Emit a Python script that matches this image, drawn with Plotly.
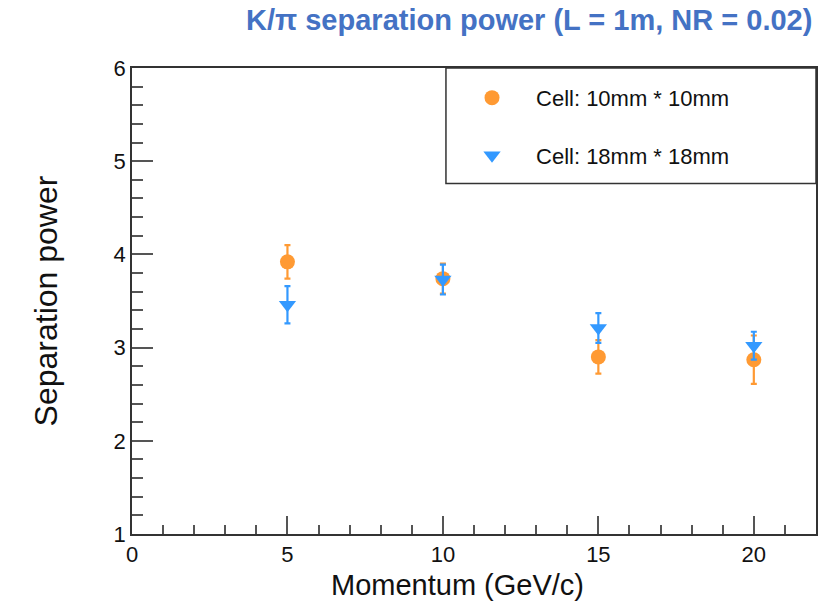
import plotly.graph_objects as go

momentum = [5, 10, 15, 20]
sep_10mm = [3.92, 3.74, 2.90, 2.87]
err_10mm = [0.18, 0.16, 0.18, 0.26]
sep_18mm = [3.46, 3.73, 3.21, 3.02]
err_18mm = [0.20, 0.16, 0.16, 0.15]

names = ["Cell: 10mm * 10mm", "Cell: 18mm * 18mm"]
orange = "#FF9A33"
blue = "#3399FF"

fig = go.Figure()
fig.add_trace(go.Scatter(
    x=momentum, y=sep_10mm, mode="markers", name=names[0],
    marker=dict(symbol="circle", size=15, color=orange),
    error_y=dict(type="data", array=err_10mm, color=orange, thickness=2.2, width=3),
    legendgroup="a"))
fig.add_trace(go.Scatter(
    x=momentum, y=sep_18mm, mode="markers", name=names[1],
    marker=dict(symbol="triangle-down", size=15, color=blue),
    error_y=dict(type="data", array=err_18mm, color=blue, thickness=2.2, width=3),
    legendgroup="b"))

axis_common = dict(
    showline=True, linecolor="#333333", linewidth=1.5, mirror=True,
    ticks="inside", tickcolor="#555555", tickwidth=1.5,
    showgrid=False, zeroline=False, automargin=False,
    tickfont=dict(family="Liberation Sans, Arial", size=22, color="#111111"),
)

fig.update_xaxes(
    range=[0, 22], tickmode="linear", tick0=0, dtick=5, ticklen=18,
    minor=dict(dtick=1, ticklen=9, ticks="inside", tickcolor="#555555", tickwidth=1.5),
    **axis_common)
fig.update_yaxes(
    range=[1, 6], tickmode="linear", tick0=1, dtick=1, ticklen=21,
    minor=dict(dtick=0.2, ticklen=11, ticks="inside", tickcolor="#555555", tickwidth=1.5),
    title=dict(text="Separation power", font=dict(family="Liberation Sans, Arial", size=32, color="#111111"), standoff=46),
    **axis_common)

fig.add_annotation(text="Momentum (GeV/c)", xref="paper", yref="paper",
                   x=0.4766, y=-0.109, xanchor="center", yanchor="middle", showarrow=False,
                   font=dict(family="Liberation Sans, Arial", size=29, color="#111111"))

fig.add_shape(type="rect", xref="paper", yref="paper",
              x0=0.459, x1=1.0, y0=0.752, y1=1.0,
              line=dict(color="#333333", width=1.5), fillcolor="rgba(0,0,0,0)")

fig.update_layout(
    width=836, height=607,
    margin=dict(l=132, r=20, t=68, b=73),
    paper_bgcolor="white", plot_bgcolor="white",
    title=dict(text="K/π separation power (L = 1m, NR = 0.02)",
               font=dict(family="Liberation Sans, Arial", size=29, color="#4472C4", weight="bold"),
               x=0.633, xanchor="center", y=0.967, yanchor="middle"),
    showlegend=True,
    legend=dict(x=0.462, y=0.981, xanchor="left", yanchor="top",
                bgcolor="rgba(0,0,0,0)", borderwidth=0,
                font=dict(family="Liberation Sans, Arial", size=22, color="#111111"),
                tracegroupgap=26, traceorder="grouped", itemwidth=78),
)

fig.write_html("out.html")
